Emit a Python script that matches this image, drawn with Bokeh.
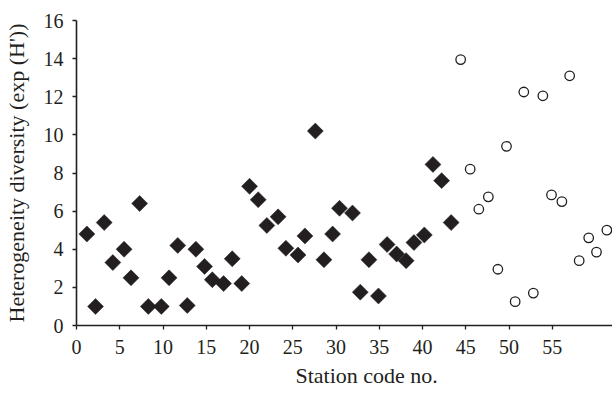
import math

from bokeh.embed import file_html
from bokeh.models import ColumnDataSource, FixedTicker, Range1d, Title
from bokeh.plotting import figure
from bokeh.resources import INLINE

# Stations plotted with filled diamonds: position on the station axis and diversity exp(H')
diamond_station = [1.2, 2.2, 3.2, 4.2, 5.5, 6.3, 7.3, 8.3, 9.8, 10.7,
                   11.7, 12.8, 13.8, 14.8, 15.7, 17.0, 18.0, 19.1, 20.0, 21.0,
                   22.0, 23.3, 24.2, 25.6, 26.4, 27.6, 28.6, 29.6, 30.4, 31.9,
                   32.8, 33.8, 34.9, 35.9, 37.0, 38.1, 39.0, 40.2, 41.2, 42.2,
                   43.3]
diamond_diversity = [4.8, 1.0, 5.4, 3.3, 4.0, 2.5, 6.4, 1.0, 1.0, 2.5,
                     4.2, 1.05, 4.0, 3.1, 2.4, 2.2, 3.5, 2.2, 7.3, 6.6,
                     5.25, 5.7, 4.05, 3.7, 4.7, 10.2, 3.45, 4.8, 6.15, 5.9,
                     1.75, 3.45, 1.55, 4.25, 3.75, 3.4, 4.35, 4.75, 8.45, 7.6,
                     5.4]

# Stations plotted with open circles
circle_station = [44.4, 45.5, 46.5, 47.6, 48.7, 49.7, 50.7, 51.7, 52.8, 53.9,
                  54.9, 56.1, 57.0, 58.1, 59.2, 60.1, 61.3]
circle_diversity = [13.95, 8.2, 6.1, 6.75, 2.95, 9.4, 1.25, 12.25, 1.7, 12.05,
                    6.85, 6.5, 13.1, 3.4, 4.6, 3.85, 5.0]

x_ticks = [0, 5, 10, 15, 20, 25, 30, 35, 40, 45, 50, 55]
y_ticks = [0, 2, 4, 6, 8, 10, 12, 14, 16]

INK = "#231f20"
FONT = "'Liberation Serif', 'Times New Roman', 'DejaVu Serif', serif"

p = figure(width=612, height=397,
           x_range=Range1d(0, 61.95), y_range=Range1d(0, 16),
           output_backend="svg", toolbar_location=None,
           min_border_left=76, min_border_right=0,
           min_border_top=20, min_border_bottom=72)

p.xgrid.grid_line_color = None
p.ygrid.grid_line_color = None
p.outline_line_color = None
p.background_fill_color = "white"
p.border_fill_color = "white"

p.scatter(x="x", y="y", source=ColumnDataSource(dict(x=diamond_station, y=diamond_diversity)),
          marker="square", angle=math.pi / 4, size=11.3,
          fill_color=INK, line_color=INK, line_width=0.5)

p.scatter(x="x", y="y", source=ColumnDataSource(dict(x=circle_station, y=circle_diversity)),
          marker="circle", size=9.5,
          fill_color="white", line_color=INK, line_width=1.3)

for ax in (p.xaxis[0], p.yaxis[0]):
    ax.axis_line_color = INK
    ax.axis_line_width = 1.6
    ax.major_tick_line_color = INK
    ax.major_tick_line_width = 1.3
    ax.major_tick_in = 0
    ax.major_tick_out = 4
    ax.minor_tick_line_color = None
    ax.major_label_text_font = FONT
    ax.major_label_text_font_size = "20px"
    ax.major_label_text_color = INK
    ax.axis_label_text_font = FONT
    ax.axis_label_text_font_size = "22px"
    ax.axis_label_text_font_style = "normal"
    ax.axis_label_text_color = INK

p.xaxis.ticker = FixedTicker(ticks=x_ticks)
p.yaxis.ticker = FixedTicker(ticks=y_ticks)
p.yaxis.axis_label = "Heterogeneity diversity (exp (H'))"
p.xaxis.major_label_standoff = 10
p.yaxis.major_label_standoff = 9
p.yaxis.axis_label_standoff = 12

# x-axis title in its own panel under the tick labels, set a little right of centre
x_title = Title(text="Station code no.", align="left", offset=219,
                text_font=FONT, text_font_size="22px", text_font_style="normal",
                text_color=INK, standoff=8)
p.add_layout(x_title, "below")

open("out.html", "w").write(file_html(p, INLINE))
